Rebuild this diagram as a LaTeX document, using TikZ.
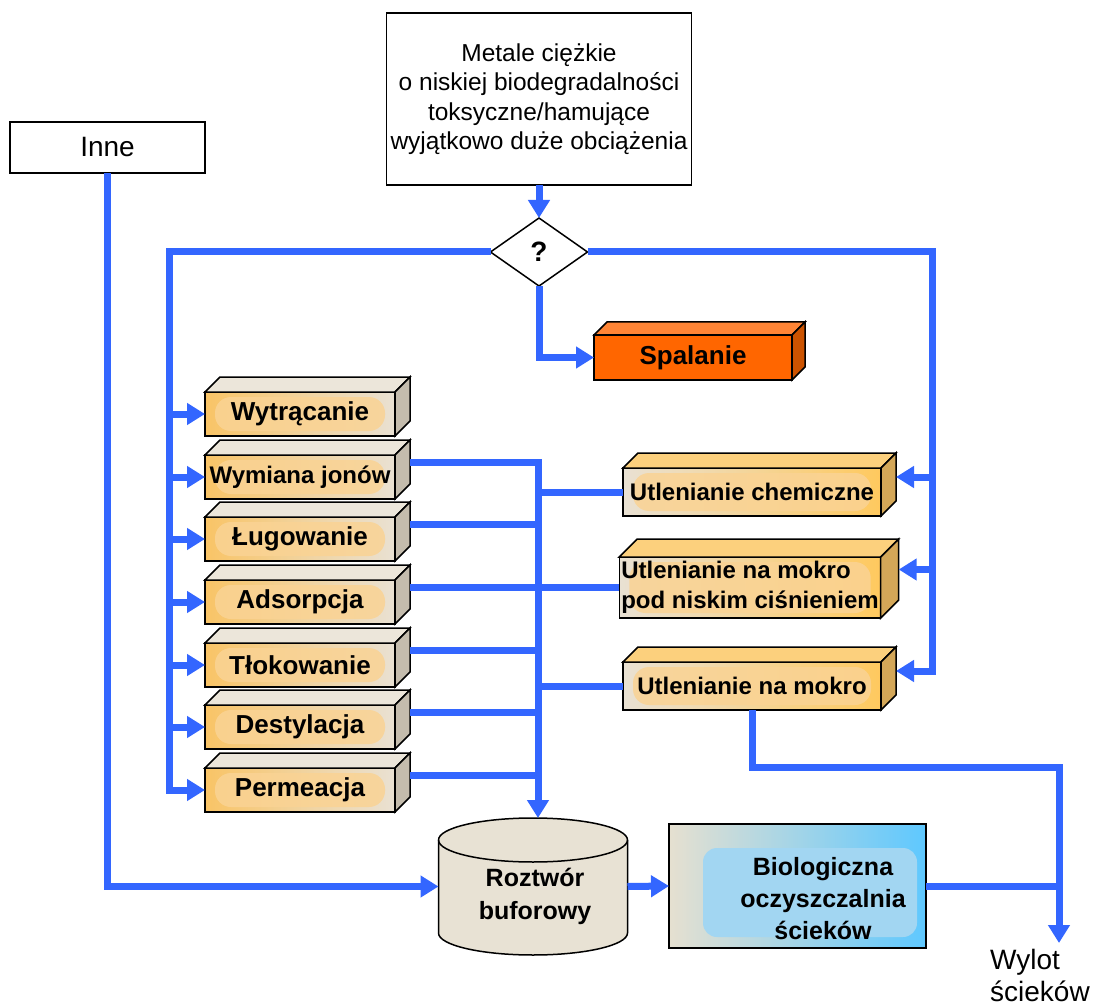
\documentclass[tikz,border=0pt]{standalone}
\usepackage{fontspec}
\setmainfont{Liberation Sans}
\usetikzlibrary{arrows.meta,shapes.geometric,calc}
\definecolor{flowc}{HTML}{3366FF}
\definecolor{orL}{HTML}{F9C466}
\definecolor{begL}{HTML}{E9E1D3}
\definecolor{topL}{HTML}{ECE6DA}
\definecolor{sideL}{HTML}{C4BCAD}
\definecolor{pillc}{HTML}{FAD394}
\definecolor{orR}{HTML}{FFC95E}
\definecolor{topR}{HTML}{FCD07D}
\definecolor{sideR}{HTML}{D4A758}
\definecolor{orS}{HTML}{FF6600}
\definecolor{topS}{HTML}{FF8536}
\definecolor{sideS}{HTML}{CC5300}
\definecolor{cylc}{HTML}{E8E2D4}
\definecolor{bioL}{HTML}{E6E0D0}
\definecolor{bioR}{HTML}{5EC8FF}
\definecolor{bioin}{HTML}{A2D6F2}
\tikzset{
  edge/.style={draw=black, line width=1.5pt},
  pillpic/.style={path picture={
      \fill[pillc, fill opacity=0.85, rounded corners=16pt]
        ($(path picture bounding box.south west)+(10,-5)$) rectangle
        ($(path picture bounding box.north east)+(-10,5)$);}},
  lblfont/.style={font=\bfseries\fontsize{24}{30}\selectfont},
  bigfont/.style={font=\bfseries\fontsize{26}{30}\selectfont},
  frontL/.style={edge, outer sep=0pt, inner sep=2pt, left color=orL, right color=begL, pillpic, bigfont},
  topL/.style={edge, fill=topL},
  sideL/.style={edge, fill=sideL},
  frontR/.style={edge, outer sep=0pt, inner sep=2pt, left color=begL, right color=orR, pillpic, lblfont, align=left},
  topR/.style={edge, fill=topR},
  sideR/.style={edge, fill=sideR},
  frontS/.style={edge, outer sep=0pt, inner sep=2pt, fill=orS, bigfont},
  topS/.style={edge, fill=topS},
  sideS/.style={edge, fill=sideS},
  plain/.style={draw=black, line width=1.3pt, fill=white, outer sep=0pt, inner sep=2pt},
  flow/.style={draw=flowc, line width=7pt},
  arr/.style={-{Triangle[length=18pt,width=21pt]}},
}
\newcommand\cuboid[6]{%
  \node[front#2, #4] (#1) at (#3) {#6};
  \filldraw[top#2] (#1.north west) -- ++(#5,-#5) -- ($(#1.north east)+(#5,-#5)$) -- (#1.north east) -- cycle;
  \filldraw[side#2] (#1.north east) -- ++(#5,-#5) -- ($(#1.south east)+(#5,-#5)$) -- (#1.south east) -- cycle;
  \coordinate (#1-r) at ($(#1.east)+(#5,-#5)$);
}
\begin{document}
\begin{tikzpicture}[x=1pt,y=-1pt]
\fill[white] (0,0) rectangle (1106,1008);
\useasboundingbox (0,0) rectangle (1106,1008);

% top box and decision
\node[plain, minimum width=305, minimum height=172, align=center,
      font=\fontsize{24.5}{29.5}\selectfont] (top) at (539,99)
  {Metale ciężkie\\o niskiej biodegradalności\\toksyczne/hamujące\\wyjątkowo duże obciążenia};
\node[diamond, draw=black, line width=1.5pt, fill=white, minimum width=97, minimum height=68,
      inner sep=0pt, outer sep=0pt, font=\bfseries\fontsize{28}{30}\selectfont] (dia) at (539,252) {?};
\node[plain, minimum width=195, minimum height=51, font=\fontsize{28}{32}\selectfont] (inne) at (107.5,147.5) {Inne};

% left process boxes
\cuboid{wyt}{L}{300,414}{minimum width=190, minimum height=44}{15}{Wytrącanie}
\cuboid{wym}{L}{300,477}{minimum width=190, minimum height=44, lblfont}{15}{Wymiana jonów}
\cuboid{lug}{L}{300,539}{minimum width=190, minimum height=44}{15}{Ługowanie}
\cuboid{ads}{L}{300,602}{minimum width=190, minimum height=44}{15}{Adsorpcja}
\cuboid{tlo}{L}{300,665}{minimum width=190, minimum height=44}{15}{Tłokowanie}
\cuboid{des}{L}{300,727}{minimum width=190, minimum height=44}{15}{Destylacja}
\cuboid{per}{L}{300,790}{minimum width=190, minimum height=44}{15}{Permeacja}

% right process boxes
\cuboid{uc}{R}{752,492}{minimum width=258, minimum height=48}{15}{Utlenianie chemiczne}
\cuboid{um}{R}{750,587.5}{minimum width=254, minimum height=61}{18}{Utlenianie na mokro\\pod niskim ciśnieniem}
\cuboid{uw}{R}{752,686}{minimum width=258, minimum height=48}{15}{Utlenianie na mokro}

% incineration
\cuboid{spal}{S}{693,357.5}{minimum width=198, minimum height=45}{13}{Spalanie}

% buffer tank
\node[minimum width=189, minimum height=137, inner sep=0pt, outer sep=0pt] (buf) at (533,886.5) {};
\filldraw[edge, fill=cylc] ($(buf.north west)+(0,22)$) -- ($(buf.south west)+(0,-22)$)
  arc[start angle=180, end angle=0, x radius=94.5, y radius=22]
  -- ($(buf.north east)+(0,22)$)
  arc[start angle=0, end angle=-180, x radius=94.5, y radius=22] -- cycle;
\draw[edge] ($(buf.north west)+(0,22)$) arc[start angle=180, end angle=0, x radius=94.5, y radius=22];
\node[align=center, font=\bfseries\fontsize{25}{33}\selectfont] (buf-t) at (535,896.5) {Roztwór\\buforowy};

% biological plant
\node[edge, outer sep=0pt, left color=bioL, right color=bioR, minimum width=257, minimum height=124] (bio) at (797.5,886) {};
\node[fill=bioin, rounded corners=14pt, minimum width=214, minimum height=89] (bio-in) at (810,892.5) {};
\node[align=center, font=\bfseries\fontsize{25}{32}\selectfont] (bio-t) at (823,899) {Biologiczna\\oczyszczalnia\\ścieków};

% outlet label
\coordinate (out) at (1059,943);
\coordinate (turn) at (1059,767);
\node[anchor=west, align=left, inner sep=0pt, font=\fontsize{28}{32}\selectfont] (wylot) at (990,975) {Wylot\\ścieków};

% helper columns
\coordinate (Lx) at (169,0);
\coordinate (Rx) at (932,0);
\coordinate (Jx) at (538,0);

% connectors
\draw[flow, arr] (top.south) -- (dia.north);
\draw[flow, arr] (dia.south) |- (spal.west);
\draw[flow, arr] (dia.west) -| (Lx |- per.west) -- (per.west);
\foreach \b in {wyt,wym,lug,ads,tlo,des}
  \draw[flow, arr] (Lx |- \b.west) -- (\b.west);
\draw[flow, arr] (dia.east) -| (Rx |- uw-r) -- (uw-r);
\draw[flow, arr] (Rx |- uc-r) -- (uc-r);
\draw[flow, arr] (Rx |- um-r) -- (um-r);

\draw[flow, arr] (wym-r) -| (Jx |- buf.north);
\foreach \b in {lug,ads,tlo,des,per}
  \draw[flow] (\b-r) -- (Jx |- \b-r);
\foreach \b in {uc,um,uw}
  \draw[flow] (\b.west) -- (Jx |- \b.west);

\draw[flow, arr] (inne.south) |- (buf.west);
\draw[flow, arr] (buf.east) -- (bio.west);
\draw[flow, arr] (uw.south) |- (turn) -- (out);
\draw[flow] (bio.east) -- (bio.east -| out);
\end{tikzpicture}
\end{document}
